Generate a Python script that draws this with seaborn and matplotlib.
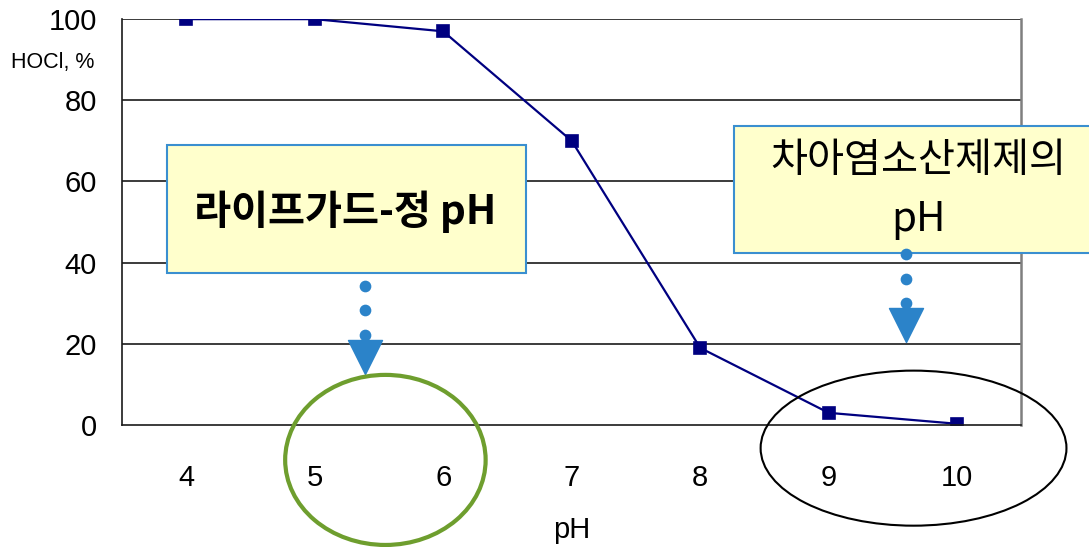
import numpy as np
import seaborn as sns
import matplotlib.pyplot as plt
from matplotlib.patches import Ellipse, Rectangle

sns.set_style("white")
plt.rcParams['font.family'] = ['Liberation Sans Narrow', 'Liberation Sans', 'Noto Sans CJK KR', 'DejaVu Sans']
plt.rcParams['text.color'] = 'black'
plt.rcParams['xtick.color'] = 'black'
plt.rcParams['ytick.color'] = 'black'
plt.rcParams['axes.labelcolor'] = 'black'

# данные графика
ph_labels = ['4', '5', '6', '7', '8', '9', '10']
hocl = [100, 100, 97, 70, 19, 3, 0.3]
y_ticks = [0, 20, 40, 60, 80, 100]

line_color = '#000080'
box_fill = '#FFFFCC'
box_edge = '#3A8FD0'
arrow_color = '#2B83C9'

fig = plt.figure(figsize=(10.89, 5.47), dpi=100)
ax = fig.add_axes([0.112, 0.223, 0.826, 0.742])

sns.pointplot(x=ph_labels, y=hocl, color=line_color, markers='s',
              markersize=9, linewidth=1.6, errorbar=None, ax=ax)

ax.set_xlim(-0.5, 6.5)
ax.set_ylim(0, 100)
ax.set_yticks(y_ticks)
for y in y_ticks[1:]:
    ax.axhline(y, color='#1a1a1a', lw=1.2, zorder=1)

# оси
for side in ['left', 'bottom']:
    ax.spines[side].set_color('#1a1a1a')
    ax.spines[side].set_linewidth(1.2)
ax.spines['top'].set_visible(False)
ax.spines['right'].set_color('#7f7f7f')
ax.spines['right'].set_linewidth(1.8)

ax.tick_params(axis='x', which='major', length=0, pad=28, labelsize=21)
ax.set_xticks(np.arange(-0.5, 7, 1), minor=True)
ax.tick_params(axis='x', which='minor', direction='in', length=7, width=1, color='#1a1a1a')
ax.tick_params(axis='y', length=0, pad=18, labelsize=21)

ax.set_xlabel('pH', fontsize=21, labelpad=17)
ax.set_ylabel('')
fig.text(0.087, 0.885, 'HOCl, %', fontsize=15.5, ha='right', va='center')

# подписи в рамках
ax.add_patch(Rectangle((-0.148, 37.4), 2.79, 31.6, facecolor=box_fill, edgecolor=box_edge,
                       lw=1.5, zorder=5, clip_on=False))
ax.text(1.24, 52.5, '라이프가드-정 pH', fontsize=29, fontweight='bold', ha='center', va='center',
        family=['Noto Sans CJK KR', 'DejaVu Sans'], zorder=6)

ax.add_patch(Rectangle((4.263, 42.4), 2.9, 31.2, facecolor=box_fill, edgecolor=box_edge,
                       lw=1.5, zorder=5, clip_on=False))
ax.text(5.70, 57.9, '차아염소산제제의\npH', fontsize=29, ha='center', va='center', linespacing=1.55,
        family=['Noto Sans CJK KR', 'DejaVu Sans'], zorder=6)

# пунктирные стрелки
ax.scatter([1.395] * 3, [34.2, 28.3, 22.2], s=55, color=arrow_color, zorder=7, clip_on=False)
ax.scatter([1.395], [16.7], marker='v', s=600, color=arrow_color, zorder=7, clip_on=False)
ax.scatter([5.604] * 3, [42.1, 36.0, 30.0], s=55, color=arrow_color, zorder=7, clip_on=False)
ax.scatter([5.604], [24.6], marker='v', s=600, color=arrow_color, zorder=7, clip_on=False)

# эллипсы
ax.add_patch(Ellipse((1.55, -8.6), 1.56, 41.9, fill=False, edgecolor='#6E9E2E', lw=3,
                     zorder=8, clip_on=False))
ax.add_patch(Ellipse((5.66, -5.7), 2.38, 38.2, fill=False, edgecolor='black', lw=1.5,
                     zorder=8, clip_on=False))

fig.savefig('out.png', dpi=100)
